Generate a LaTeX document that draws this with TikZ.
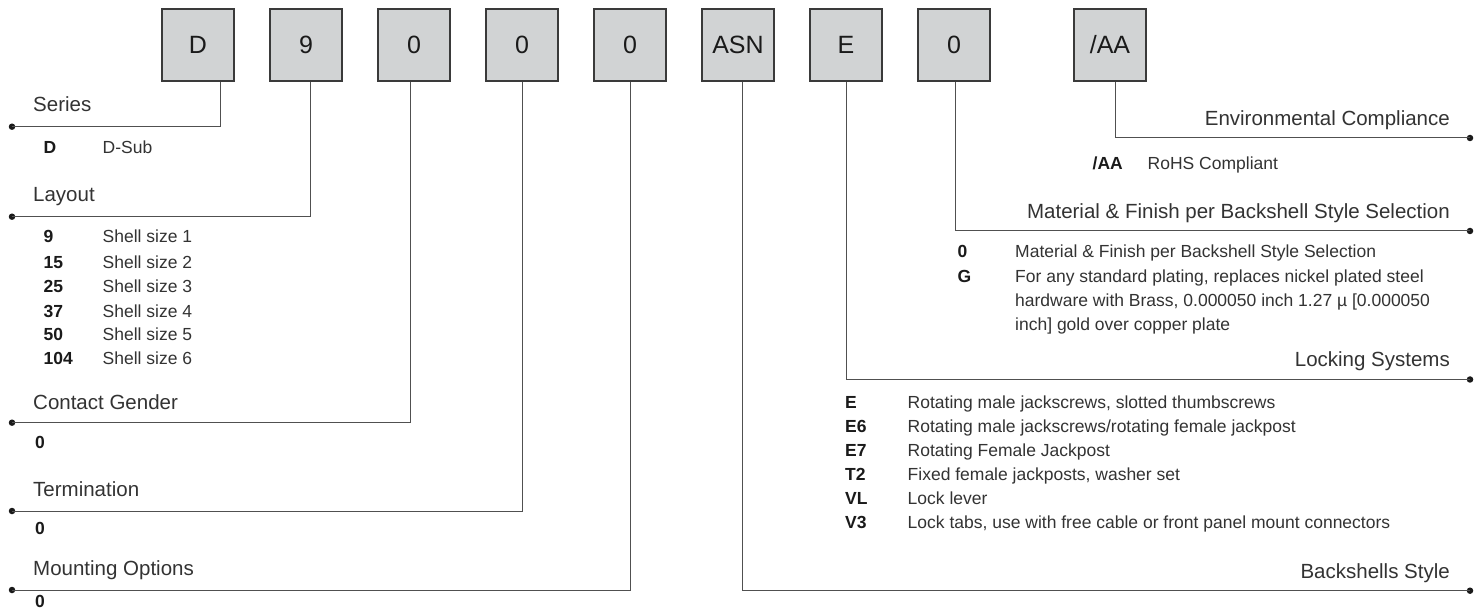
\documentclass[tikz,border=0pt]{standalone}
\usepackage{fontspec}
\setmainfont{Liberation Sans}
\definecolor{boxfill}{HTML}{D1D3D4}
\definecolor{boxline}{HTML}{3A3A3A}
\definecolor{lineclr}{HTML}{505050}
\definecolor{txtgray}{HTML}{333333}
\definecolor{txtdark}{HTML}{1A1A1A}
\tikzset{
  box/.style={draw=boxline, fill=boxfill, line width=1.1pt, minimum width=72pt, minimum height=72pt, inner sep=0pt, font=\fontsize{25}{30}\selectfont, text=txtdark},
  conn/.style={draw=lineclr, line width=1pt},
  dotc/.style={circle, fill=txtdark, inner sep=0pt, minimum size=6.5pt},
  head/.style={font=\fontsize{20.5}{24}\selectfont, text=txtgray, inner sep=0pt},
  codet/.style={font=\fontsize{17.5}{21}\selectfont\bfseries, text=txtdark, inner sep=0pt, anchor=base west},
  desct/.style={font=\fontsize{17.5}{21}\selectfont, text=txtgray, inner sep=0pt, anchor=base west},
}
\begin{document}
\begin{tikzpicture}[x=1pt,y=-1pt]
\useasboundingbox[fill=white] (0,0) rectangle (1483,609);

% boxes
\node[box] (bD)  at (198,45)  {D};
\node[box] (b9)  at (306,45)  {9};
\node[box] (bC)  at (414,45)  {0};
\node[box] (bT)  at (522,45)  {0};
\node[box] (bM)  at (630,45)  {0};
\node[box] (bA)  at (738,45)  {ASN};
\node[box] (bE)  at (846,45)  {E};
\node[box] (bF)  at (954,45)  {0};
\node[box] (bR)  at (1110,45) {/AA};

% end dots
\node[dotc] (dSer) at (12,126.7) {};
\node[dotc] (dLay) at (12,216.7) {};
\node[dotc] (dCon) at (12,422.7) {};
\node[dotc] (dTer) at (12,511) {};
\node[dotc] (dMou) at (12,590) {};
\node[dotc] (dEnv) at (1470,138) {};
\node[dotc] (dMat) at (1470,231) {};
\node[dotc] (dLoc) at (1470,379.5) {};
\node[dotc] (dBac) at (1470,590.7) {};

% connectors
\draw[conn] ([xshift=22pt]bD.south) |- (dSer.center);
\draw[conn] ([xshift=4pt]b9.south) |- (dLay.center);
\draw[conn] ([xshift=-3.5pt]bC.south) |- (dCon.center);
\draw[conn] (bT.south) |- (dTer.center);
\draw[conn] (bM.south) |- (dMou.center);
\draw[conn] ([xshift=4.5pt]bA.south) |- (dBac.center);
\draw[conn] (bE.south) |- (dLoc.center);
\draw[conn] ([xshift=1.5pt]bF.south) |- (dMat.center);
\draw[conn] ([xshift=5pt]bR.south) |- (dEnv.center);

% left headings
\node[head, anchor=base west] (hSer) at (33,112) {Series};
\node[head, anchor=base west] (hLay) at (33,202) {Layout};
\node[head, anchor=base west] (hCon) at (33,409.5) {Contact Gender};
\node[head, anchor=base west] (hTer) at (33,496.5) {Termination};
\node[head, anchor=base west] (hMou) at (33,575.5) {Mounting Options};

% right headings
\node[head, anchor=base east] (hEnv) at (1450,125.5) {Environmental Compliance};
\node[head, anchor=base east] (hMat) at (1450,218.7) {Material \& Finish per Backshell Style Selection};
\node[head, anchor=base east] (hLoc) at (1450,367) {Locking Systems};
\node[head, anchor=base east] (hBac) at (1450,578.7) {Backshells Style};

% Series rows
\node[codet] (cD) at (43.5,153.6) {D};
\node[desct] (tD) at (102.5,153.6) {D-Sub};

% Layout rows
\node[codet] (c9)   at (43.5,242.3) {9};
\node[desct] (t9)   at (102.5,242.3) {Shell size 1};
\node[codet] (c15)  at (43.5,269) {15};
\node[desct] (t15)  at (102.5,269) {Shell size 2};
\node[codet] (c25)  at (43.5,293) {25};
\node[desct] (t25)  at (102.5,293) {Shell size 3};
\node[codet] (c37)  at (43.5,317.3) {37};
\node[desct] (t37)  at (102.5,317.3) {Shell size 4};
\node[codet] (c50)  at (43.5,340.3) {50};
\node[desct] (t50)  at (102.5,340.3) {Shell size 5};
\node[codet] (c104) at (43.5,364.3) {104};
\node[desct] (t104) at (102.5,364.3) {Shell size 6};

% Contact / Termination / Mounting rows
\node[codet] (cCon) at (35,448) {0};
\node[codet] (cTer) at (35,534) {0};
\node[codet] (cMou) at (35,607) {0};

% Environmental rows
\node[codet] (cAA) at (1092.5,169.6) {/AA};
\node[desct] (tAA) at (1147.5,169.6) {RoHS Compliant};

% Material rows
\node[codet] (cM0) at (957.5,258) {0};
\node[desct] (tM0) at (1015,258) {Material \& Finish per Backshell Style Selection};
\node[codet] (cMG) at (957.5,282.5) {G};
\node[desct] (tMG1) at (1015,282.5) {For any standard plating, replaces nickel plated steel};
\node[desct] (tMG2) at (1015,306.5) {hardware with Brass, 0.000050 inch 1.27 µ [0.000050};
\node[desct] (tMG3) at (1015,330.5) {inch] gold over copper plate};

% Locking rows
\node[codet] (cL1) at (845,408) {E};
\node[desct] (tL1) at (907.5,408) {Rotating male jackscrews, slotted thumbscrews};
\node[codet] (cL2) at (845,432) {E6};
\node[desct] (tL2) at (907.5,432) {Rotating male jackscrews/rotating female jackpost};
\node[codet] (cL3) at (845,456.3) {E7};
\node[desct] (tL3) at (907.5,456.3) {Rotating Female Jackpost};
\node[codet] (cL4) at (845,480.6) {T2};
\node[desct] (tL4) at (907.5,480.6) {Fixed female jackposts, washer set};
\node[codet] (cL5) at (845,504.6) {VL};
\node[desct] (tL5) at (907.5,504.6) {Lock lever};
\node[codet] (cL6) at (845,528.6) {V3};
\node[desct] (tL6) at (907.5,528.6) {Lock tabs, use with free cable or front panel mount connectors};
\end{tikzpicture}
\end{document}
